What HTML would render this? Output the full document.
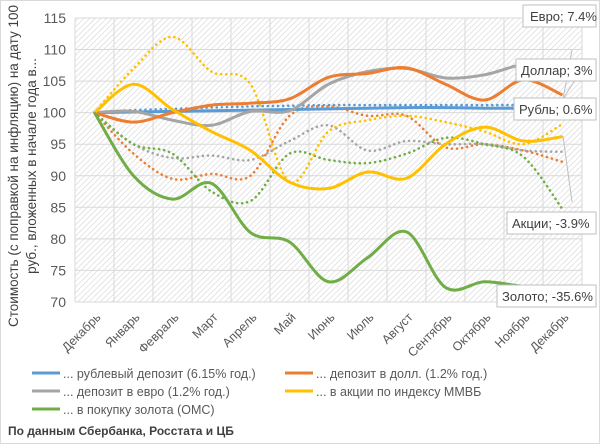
<!DOCTYPE html>
<html><head><meta charset="utf-8"><style>
body{margin:0;background:#fff}
svg{display:block;font-family:"Liberation Sans","DejaVu Sans",sans-serif}
</style></head><body>
<svg id="s" width="600" height="444" viewBox="0 0 600 444" xmlns="http://www.w3.org/2000/svg">
<defs>
<pattern id="h" width="4" height="4" patternUnits="userSpaceOnUse" patternTransform="rotate(45)">
<rect width="4" height="4" fill="#fff"/><line x1="0" y1="0" x2="0" y2="4" stroke="#d4d4d4" stroke-width="1.2"/>
</pattern>
</defs>
<rect x="0.5" y="0.5" width="599" height="443" fill="#fff" stroke="#d9d9d9"/>
<rect x="75" y="18" width="507" height="284" fill="url(#h)"/>
<g id="grid" stroke="#d9d9d9" stroke-width="1"></g>
<g id="yl" font-size="14" fill="#595959" text-anchor="end"></g>
<g id="xl" font-size="12.5" fill="#595959" text-anchor="end"></g>
<g id="series" fill="none"></g>
<text transform="translate(18,166) rotate(-90)" font-size="13.5" fill="#404040" text-anchor="middle">Стоимость (с поправкой на инфляцию) на дату 100</text>
<text transform="translate(36,166) rotate(-90)" font-size="13.5" fill="#404040" text-anchor="middle">руб., вложенных в начале года в...</text>
<g stroke="#bfbfbf" fill="none">
<polyline points="563,99 575,80"/><polyline points="563,99 572,50"/><polyline points="563,136 572,202"/>
</g>
<g font-size="13" fill="#404040">
<rect x="523" y="5" width="73" height="22" fill="#fff" stroke="#bfbfbf"/><text x="530" y="21">Евро; 7.4%</text>
<rect x="516" y="59" width="80" height="22" fill="#fff" stroke="#bfbfbf"/><text x="521" y="75">Доллар; 3%</text>
<rect x="514" y="98" width="82" height="22" fill="#fff" stroke="#bfbfbf"/><text x="519" y="114">Рубль; 0.6%</text>
<rect x="507" y="212" width="89" height="22" fill="#fff" stroke="#bfbfbf"/><text x="512" y="228">Акции; -3.9%</text>
<rect x="497" y="285" width="99" height="22" fill="#fff" stroke="#bfbfbf"/><text x="502" y="301">Золото; -35.6%</text>
</g>
<g font-size="12.5" fill="#595959">
<line x1="32" y1="373" x2="60" y2="373" stroke="#5b9bd5" stroke-width="3"/><text x="63" y="378">... рублевый депозит (6.15% год.)</text>
<line x1="285" y1="373" x2="313" y2="373" stroke="#ed7d31" stroke-width="3"/><text x="316" y="378">... депозит в долл. (1.2% год.)</text>
<line x1="32" y1="391" x2="60" y2="391" stroke="#a5a5a5" stroke-width="3"/><text x="63" y="396">... депозит в евро (1.2% год.)</text>
<line x1="285" y1="391" x2="313" y2="391" stroke="#ffc000" stroke-width="3"/><text x="316" y="396">... в акции по индексу ММВБ</text>
<line x1="32" y1="409" x2="60" y2="409" stroke="#70ad47" stroke-width="3"/><text x="63" y="414">... в покупку золота (ОМС)</text>
</g>
<text x="8" y="435" font-size="12" font-weight="bold" fill="#404040">По данным Сбербанка, Росстата и ЦБ</text>
</svg>
<script>
const NS="http://www.w3.org/2000/svg";
function el(p,t,a,txt){const e=document.createElementNS(NS,t);for(const k in a)e.setAttribute(k,a[k]);if(txt)e.textContent=txt;document.getElementById(p).appendChild(e);return e;}
const Y=v=>18+(115-v)*6.31, X=i=>94.5+39*i;
for(let v=70;v<=115;v+=5){el("grid","line",{x1:75,x2:582,y1:Y(v),y2:Y(v)});el("yl","text",{x:66,y:Y(v)+5},String(v));}
for(let i=0;i<=13;i++)el("grid","line",{x1:75+39*i,x2:75+39*i,y1:18,y2:302});
const m=["Декабрь","Январь","Февраль","Март","Апрель","Май","Июнь","Июль","Август","Сентябрь","Октябрь","Ноябрь","Декабрь"];
m.forEach((t,i)=>el("xl","text",{transform:`translate(${X(i)+7},${318}) rotate(-45)`},t));
function path(d){const p=d.map((v,i)=>[X(i),Y(v)]);let s=`M${p[0][0]},${p[0][1]}`;
for(let i=0;i<p.length-1;i++){const a=p[Math.max(i-1,0)],b=p[i],c=p[i+1],e=p[Math.min(i+2,p.length-1)];
s+=` C${b[0]+(c[0]-a[0])/6},${b[1]+(c[1]-a[1])/6} ${c[0]-(e[0]-b[0])/6},${c[1]-(e[1]-b[1])/6} ${c[0]},${c[1]}`;}return s;}
const S=[
["#ed7d31",1,[100,93.5,89.5,90.3,90,99.5,101,99.5,99.5,94.5,95,94,92.2]],
["#a5a5a5",1,[100,95,92.8,93.2,92.5,95.5,98,94,95.5,95,95,94,93.8]],
["#70ad47",1,[100,95,93.5,87.5,86,93.5,92.5,92,93.5,96,95,93,84.7]],
["#ffc000",1,[100,107,112,106.5,104.5,89,97,98.8,99.5,98.5,97,95,98.2]],
["#5b9bd5",1,[100,100.4,100.6,100.8,101,101.1,101.2,101.2,101.2,101.2,101.2,101.2,101.2]],
["#5b9bd5",0,[100,100.1,100.2,100.3,100.4,100.5,100.6,100.7,100.8,100.8,100.7,100.7,100.7]],
["#a5a5a5",0,[100,100.2,98.8,98,100.2,100.3,104.5,106.5,107,105.5,106,107.7,108.2]],
["#ed7d31",0,[100,98.5,100,101.2,101.5,102.2,105.6,106.2,107.1,104.5,102,105.2,102.8]],
["#ffc000",0,[100,104.5,100.5,97,94,89,88,90.6,89.6,95,97.7,95.5,96.2]],
["#70ad47",0,[100,90,86.3,88.8,81,79.5,73.2,77,81.1,72.3,73.2,72.5,72.5]]];
S.forEach(([c,d,v])=>el("series","path",d?{d:path(v),stroke:c,"stroke-width":2.6,"stroke-dasharray":"0.1 5","stroke-linecap":"round"}:{d:path(v),stroke:c,"stroke-width":3}));
const s=document.getElementById("s");[...s.querySelectorAll("g")].slice(-3,-1).forEach(g=>s.appendChild(g));
</script>
</body></html>
